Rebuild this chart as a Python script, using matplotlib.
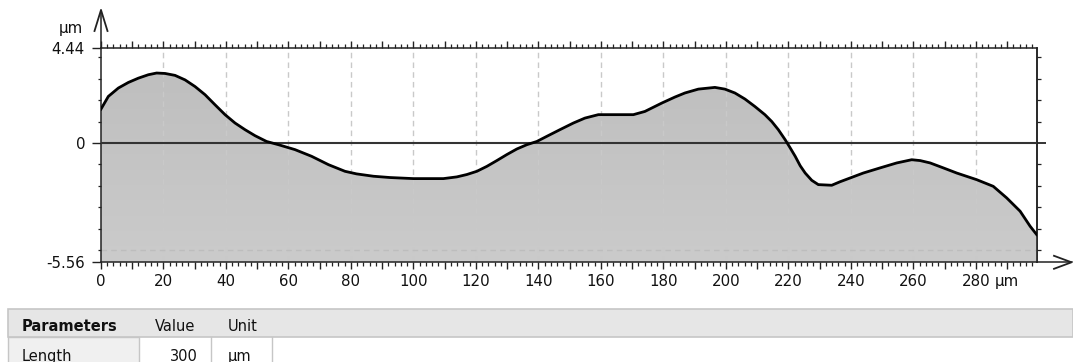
import matplotlib
matplotlib.use("Agg")
import matplotlib.pyplot as plt
from matplotlib.ticker import MultipleLocator, FixedLocator, FuncFormatter
from matplotlib.patches import Rectangle
import numpy as np

# profile (x in um, z in um)
x_um = [0, 2.35, 5.55, 8.75, 11.95, 15.15, 17.8, 20.5, 23.7, 26.9, 30.1, 33.3, 36.5,
        39.7, 42.9, 46.1, 49.3, 53.0, 56.8, 62.1, 67.4, 72.8, 78.1, 81.8, 87.2, 92.5,
        100, 109.6, 113.9, 117.1, 120.3, 123.5, 126.7, 129.9, 133.1, 136.3, 139.5,
        142.7, 146.9, 151.2, 154.9, 159.2, 170.4, 174.1, 179.5, 183.7, 186.9, 191.2,
        196.5, 199.7, 202.9, 206.1, 209.3, 212.5, 214.7, 216.8, 219.0, 220.6, 222.2,
        223.8, 225.4, 227.5, 229.6, 233.9, 236.5, 239.8, 244.0, 249.4, 254.7, 259.5,
        262.2, 265.4, 269.6, 273.9, 280.3, 285.6, 289.9, 294.2, 297.4, 299.5]
z_um = [1.58, 2.17, 2.56, 2.82, 3.02, 3.18, 3.26, 3.24, 3.15, 2.94, 2.63, 2.25, 1.78,
        1.32, 0.93, 0.62, 0.34, 0.07, -0.08, -0.31, -0.62, -1.01, -1.32, -1.44, -1.55,
        -1.61, -1.66, -1.66, -1.58, -1.47, -1.32, -1.09, -0.82, -0.54, -0.28, -0.08,
        0.07, 0.31, 0.62, 0.93, 1.16, 1.32, 1.32, 1.47, 1.86, 2.14, 2.33, 2.51, 2.59,
        2.51, 2.33, 2.05, 1.70, 1.32, 1.00, 0.62, 0.15, -0.23, -0.62, -1.06, -1.40,
        -1.74, -1.94, -1.97, -1.81, -1.63, -1.40, -1.16, -0.93, -0.78, -0.82, -0.93,
        -1.16, -1.40, -1.71, -2.02, -2.56, -3.18, -3.88, -4.27]
z_top, z_bottom = 4.44, -5.56
x_end = 299.6
x_labels = list(range(0, 281, 20))

table_header = ["Parameters", "Value", "Unit"]
table_row = ["Length", "300", "µm"]

W, H = 1073, 362
INK = "#222222"
TXT = "#111111"
FS = 10.8

fig = plt.figure(figsize=(W / 100, H / 100), dpi=100)
plt.rcParams["font.family"] = "DejaVu Sans"

# overlay in pixel coordinates for arrows and the parameter table
ov = fig.add_axes([0, 0, 1, 1], zorder=0)
ov.set_xlim(0, W); ov.set_ylim(H, 0); ov.axis("off"); ov.patch.set_alpha(0)

L, R, T, B = 101, 1037, 47.7, 262.3
ax = fig.add_axes([L / W, 1 - B / H, (R - L) / W, (B - T) / H], zorder=1)
ax.set_xlim(0, x_end)
ax.set_ylim(z_bottom, z_top)

# gradient fill under the profile
poly = ax.fill_between(x_um, z_um, z_bottom, color="none", lw=0)
grad = np.linspace(0, 1, 256).reshape(-1, 1)
cm = matplotlib.colors.LinearSegmentedColormap.from_list("g", ["#bdbdbd", "#cbcbcb"])
im = ax.imshow(grad, extent=[0, x_end, z_bottom, z_top], aspect="auto", cmap=cm,
               origin="upper", zorder=1)
im.set_clip_path(poly.get_paths()[0], transform=ax.transData)

# grid
for gx in x_labels[1:]:
    ax.axvline(gx, color="#c9c9c9", lw=1.0, ls=(0, (4, 3)), zorder=2)
ax.axhline(-5, color="#bdbdbd", lw=1.0, ls=(0, (4, 3)), zorder=2)

ax.axhline(0, color="#333333", lw=1.5, zorder=3)
ax.plot(x_um, z_um, color="black", lw=2.0, zorder=4, solid_joinstyle="round")

for s in ax.spines.values():
    s.set_color(INK); s.set_linewidth(1.1)

# x ticks: bottom and top
ax.xaxis.set_major_locator(MultipleLocator(10))
ax.xaxis.set_minor_locator(MultipleLocator(2))
ax.xaxis.set_major_formatter(FuncFormatter(lambda v, p: f"{int(round(v))}" if int(round(v)) % 20 == 0 else ""))
ax.tick_params(axis="x", which="major", top=True, direction="out", length=5.2, width=1.0,
               color=INK, labelsize=FS, pad=3, labelcolor=TXT)
ax.tick_params(axis="x", which="minor", top=True, direction="out", length=3.0, width=0.9, color=INK)
ax.annotate("µm", xy=(280, 0), xycoords=("data", "axes fraction"), xytext=(14.0, -8.2),
            textcoords="offset points", ha="left", va="top", fontsize=FS, color=TXT)

# y ticks: left labelled, right only integers
ax.yaxis.set_major_locator(FixedLocator([z_bottom, 0, z_top]))
ax.yaxis.set_major_formatter(FuncFormatter(lambda v, p: "0" if abs(v) < 1e-9 else f"{v:.2f}"))
ax.yaxis.set_minor_locator(FixedLocator(list(range(-5, 5))))
ax.tick_params(axis="y", which="major", direction="out", length=6.5, width=1.0, color=INK,
               labelsize=FS, pad=5.0, labelcolor=TXT)
ax.tick_params(axis="y", which="minor", direction="out", length=2.2, width=0.9, color=INK)
sec = ax.secondary_yaxis("right")
sec.yaxis.set_major_locator(FixedLocator([0]))
sec.yaxis.set_minor_locator(FixedLocator([v for v in range(-5, 5) if v != 0]))
sec.tick_params(which="major", length=6.5, width=1.4, color="#333333", labelright=False)
sec.tick_params(which="minor", length=3.0, width=0.9, color=INK)
sec.spines["right"].set_color(INK); sec.spines["right"].set_linewidth(1.1)

# axis arrows
ov.text(83, 28, "µm", ha="right", va="center", fontsize=FS, color=TXT)
ov.plot([L, L], [T, 10], color=INK, lw=1.1)
ov.plot([L - 6.5, L, L + 6.5], [31, 10, 31], color=INK, lw=1.3, solid_joinstyle="miter")
ov.plot([R, W - 1.5], [B, B], color=INK, lw=1.1)
ov.plot([W - 19, W - 1.5, W - 19], [B - 6.5, B, B + 6.5], color=INK, lw=1.3,
        solid_joinstyle="miter")

# parameter table
ov.add_patch(Rectangle((8, 309), W - 8, 28, fc="#e6e6e6", ec="#c6c6c6", lw=1.2))
ov.add_patch(Rectangle((8, 337), 131, 30, fc="#f0f0f0", ec="#c6c6c6", lw=1.0))
for cx in (211, 272):
    ov.plot([cx, cx], [337, H], color="#c6c6c6", lw=1.0)
ov.text(22, 331, table_header[0], fontsize=10.5, fontweight="bold", va="baseline", color=TXT)
ov.text(155, 331, table_header[1], fontsize=10.5, va="baseline", color=TXT)
ov.text(228, 331, table_header[2], fontsize=10.5, va="baseline", color=TXT)
ov.text(22, 361, table_row[0], fontsize=10.5, va="baseline", color=TXT)
ov.text(198, 361, table_row[1], fontsize=10.5, va="baseline", ha="right", color=TXT)
ov.text(228, 361, table_row[2], fontsize=10.5, va="baseline", color=TXT)

fig.savefig("out.png", dpi=100)
